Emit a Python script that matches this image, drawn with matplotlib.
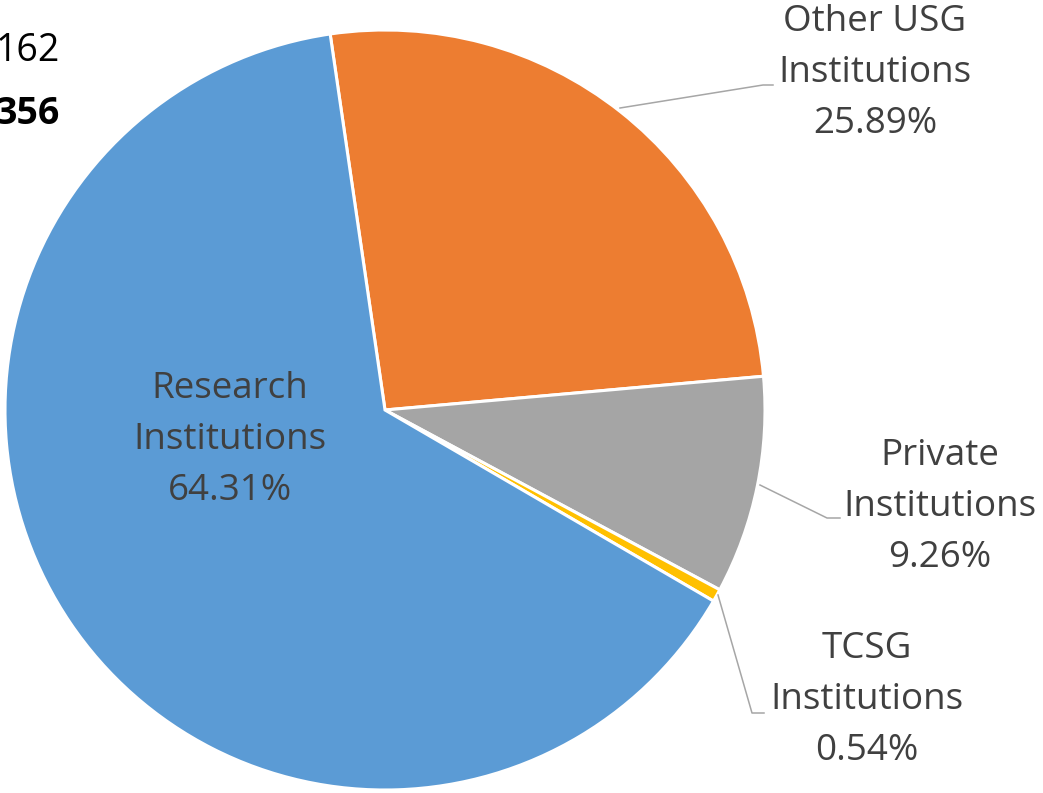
import matplotlib
matplotlib.use("Agg")
import matplotlib.pyplot as plt

categories = ["Other USG\nInstitutions", "Private\nInstitutions",
              "TCSG\nInstitutions", "Research\nInstitutions"]
shares = [25.89, 9.26, 0.54, 64.31]
colors = ["#ED7D31", "#A5A5A5", "#FFC000", "#5B9BD5"]
side_numbers = ["58", "162", "356"]   # cut-off table on the left edge

W, H = 1043, 793
plt.rcParams['font.family'] = ['Open Sans', 'DejaVu Sans']
fig = plt.figure(figsize=(W/100, H/100), dpi=100)
ax = fig.add_axes([0, 0, 1, 1])

cx, cy, r = 385, H - 410, 380
wedges, _ = ax.pie(shares, colors=colors, startangle=98.3, counterclock=False,
                   center=(cx, cy), radius=r, frame=True,
                   wedgeprops=dict(edgecolor='white', linewidth=2.2))
ax.set_xlim(0, W)
ax.set_ylim(0, H)
ax.set_aspect('equal')
ax.axis('off')

txt = "#404040"
fs = 26.5
lab = [c + "\n%.2f%%" % s for c, s in zip(categories, shares)]

# label centres and leader lines (pixel coords, y from top)
pos = [(875, 73), (940, 507), (867, 700), (230, 440)]
leaders = [[(620, 108), (763, 85), (773, 85)],
           [(760, 485), (827, 518), (840, 518)],
           [(718, 595), (752, 713), (764, 713)],
           None]
for t, (px, py), ld in zip(lab, pos, leaders):
    ax.text(px, H - py, t, ha='center', va='center', fontsize=fs, color=txt,
            linespacing=1.57)
    if ld:
        xs = [p[0] for p in ld]
        ys = [H - p[1] for p in ld]
        ax.plot(xs, ys, color="#A6A6A6", lw=1.1)

for i, v in enumerate(side_numbers):
    ax.text(60, H - (-12 + 63 * i), v, ha='right', va='center', fontsize=27,
            color='black', fontweight='bold' if i == 2 else 'normal')

fig.savefig("out.png", dpi=100)
